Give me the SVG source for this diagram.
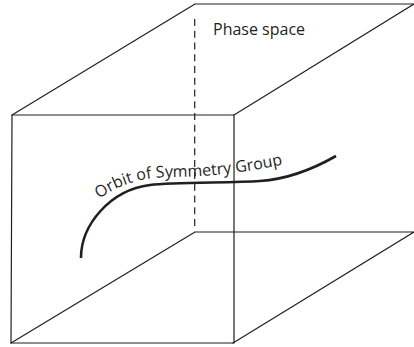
<svg xmlns="http://www.w3.org/2000/svg" width="414" height="347" viewBox="0 0 414 347">
<defs>
<style>
.edge{fill:none;stroke:#231f20;stroke-width:1.2;stroke-linecap:round;stroke-linejoin:round}
.dash{fill:none;stroke:#231f20;stroke-width:1.2;stroke-dasharray:7 4.76}
.orbit{fill:none;stroke:#231f20;stroke-width:2.6;stroke-linecap:butt}
.lbl{font-family:"Open Sans","Noto Sans",sans-serif;font-size:16px;fill:#231f20}
</style>
<path id="tp" d="M99,199 C120,184 142,177 172,177 C207,177 250,172 290,163"/>
</defs>
<rect width="414" height="347" fill="#ffffff"/>
<g id="connectors">
<path class="edge" d="M195,4 H414 M12,115 L195,4 M234,115 L414,4"/>
<path class="edge" d="M195,232 H414 M11,343 L195,232 M233,343 L414,232"/>
<line class="dash" x1="194.7" y1="19" x2="194.7" y2="226"/>
<path class="edge" d="M12,115 H234 V343 H11 Z"/>
</g>
<g id="orbit">
<path class="orbit" d="M81,258 C81,225 110,190 150,185 C175,182 230,183 260,181 C290,179 315,168 336,156"/>
<text class="lbl"><textPath href="#tp">Orbit of Symmetry Group</textPath></text>
</g>
<g id="label-phase">
<text class="lbl" x="213" y="35">Phase space</text>
</g>
</svg>
